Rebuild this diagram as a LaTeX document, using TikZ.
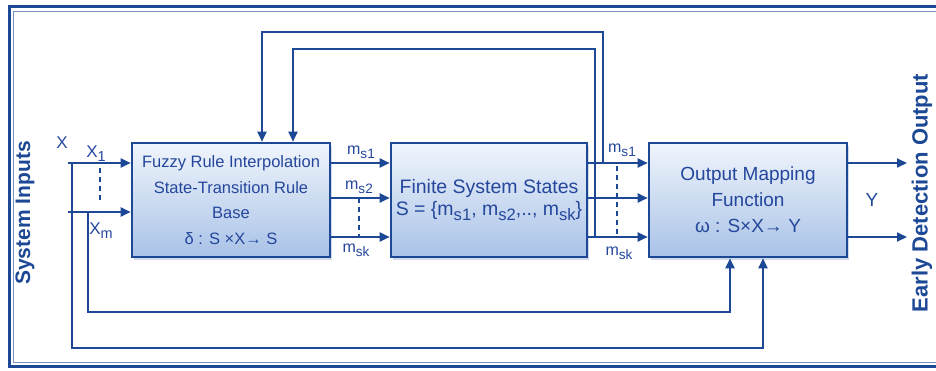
\documentclass[tikz,border=0pt]{standalone}
\usepackage{graphicx}
\usepackage{fontspec}
\setmainfont{Liberation Sans}
\usetikzlibrary{arrows.meta,shadows,calc}
\definecolor{dblue}{HTML}{1C4896}
\definecolor{tblue}{HTML}{24479C}
\definecolor{ltop}{HTML}{F0F5FC}
\definecolor{lbot}{HTML}{A9C2E7}
\newcommand{\lsub}[1]{\raisebox{-0.45ex}{\scalebox{0.85}{#1}}}
\tikzset{
  blockbox/.style={draw=dblue, line width=2.6pt, top color=ltop, bottom color=lbot,
    minimum width=198pt, minimum height=114pt, inner sep=0pt, align=center, text=tblue,
    drop shadow={shadow xshift=2pt, shadow yshift=-3pt, fill=dblue!45, opacity=0.45}},
  wire/.style={dblue, line width=2pt},
  arr/.style={wire, -{Triangle[length=10pt,width=9pt]}},
  dots/.style={dblue, line width=1.8pt, dash pattern=on 5pt off 4pt},
  sig/.style={text=tblue, inner sep=0pt, font=\fontsize{16}{16}\selectfont},
  side/.style={text=dblue, inner sep=0pt, rotate=90, font=\fontsize{21}{21}\selectfont\bfseries}
}

\begin{document}
\begin{tikzpicture}[x=1pt,y=-1pt]
\useasboundingbox (0,0) rectangle (936,370);
% frame
\draw[dblue, line width=3pt] (9.5,6.5) rectangle (960,366.5);
\draw[dblue!60, line width=1pt] (13.5,11) rectangle (960,362.5);
% blocks
\node[blockbox, font=\fontsize{16.5}{25.7}\selectfont] (fuzzy) at (231,200)
  {Fuzzy Rule Interpolation\\ State-Transition Rule\\ Base\\ δ : S ×X→ S};
\node[blockbox, minimum width=196pt, font=\fontsize{19.5}{22.5}\selectfont] (states) at (489,200)
  {Finite System States\\ S = \{m\lsub{s1}, m\lsub{s2},.., m\lsub{sk}\}};
\node[blockbox, font=\fontsize{19}{26}\selectfont] (outmap) at (748,200)
  {Output Mapping\\ Function\\ ω : S×X→ Y};
% rows
\coordinate (ra) at (0,163);
\coordinate (rb) at (0,198);
\coordinate (rc) at (0,237);
\coordinate (rm) at (0,212);
\coordinate (busM) at (0,312);
\coordinate (busX) at (0,348);
\coordinate (topA) at (0,32);
\coordinate (topB) at (0,49);
% inputs
\coordinate (xin1) at (68,163);
\coordinate (xin2) at (68,212);
\coordinate (xa) at (72,163);
\coordinate (xb) at (88,212);
\draw[arr] (xin1) -- (fuzzy.west |- ra);
\draw[arr] (xin2) -- (fuzzy.west |- rm);
\draw[dots] (100,168) -- (100,202);
% inputs fed to the output map
\draw[arr] (xa) -- (xa |- busX) -| ($(outmap.south)+(15,0)$);
\draw[arr] (xb) -- (xb |- busM) -| ($(outmap.south)+(-18,0)$);
% states
\foreach \r in {ra,rb,rc}{
  \draw[arr] (fuzzy.east |- \r) -- (states.west |- \r);
  \draw[arr] (states.east |- \r) -- (outmap.west |- \r);
}
\draw[dots] (359,198) -- (359,237);
\draw[dots] (617,166) -- (617,237);
% feedback
\coordinate (fbA) at (603,163);
\coordinate (fbB) at (595,237);
\draw[arr] (fbA) -- (fbA |- topA) -| ($(fuzzy.north)+(31,0)$);
\draw[arr] (fbB) -- (fbB |- topB) -| ($(fuzzy.north)+(62,0)$);
% outputs
\coordinate (yout1) at (907,163);
\coordinate (yout2) at (907,237);
\draw[arr] (outmap.east |- ra) -- (yout1);
\draw[arr] (outmap.east |- rc) -- (yout2);
% labels
\node[sig, font=\fontsize{17}{17}\selectfont] (lblX) at (62,143) {X};
\node[sig, font=\fontsize{17}{17}\selectfont] (lblX1) at (96,154) {X\lsub{1}};
\node[sig, font=\fontsize{17}{17}\selectfont] (lblXm) at (101,231) {X\lsub{m}};
\node[sig] (lms1) at (361,152) {m\lsub{s1}};
\node[sig] (lms2) at (359,187) {m\lsub{s2}};
\node[sig] (lmsk) at (356,250) {m\lsub{sk}};
\node[sig] (rms1) at (622,150) {m\lsub{s1}};
\node[sig] (rmsk) at (619,253) {m\lsub{sk}};
\node[sig, font=\fontsize{19}{19}\selectfont] (lblY) at (872,200) {Y};
\node[side] (sysin) at (25,213) {System Inputs};
\node[side, font=\fontsize{22}{22}\selectfont\bfseries] (early) at (922,193) {Early Detection Output};
\end{tikzpicture}
\end{document}
